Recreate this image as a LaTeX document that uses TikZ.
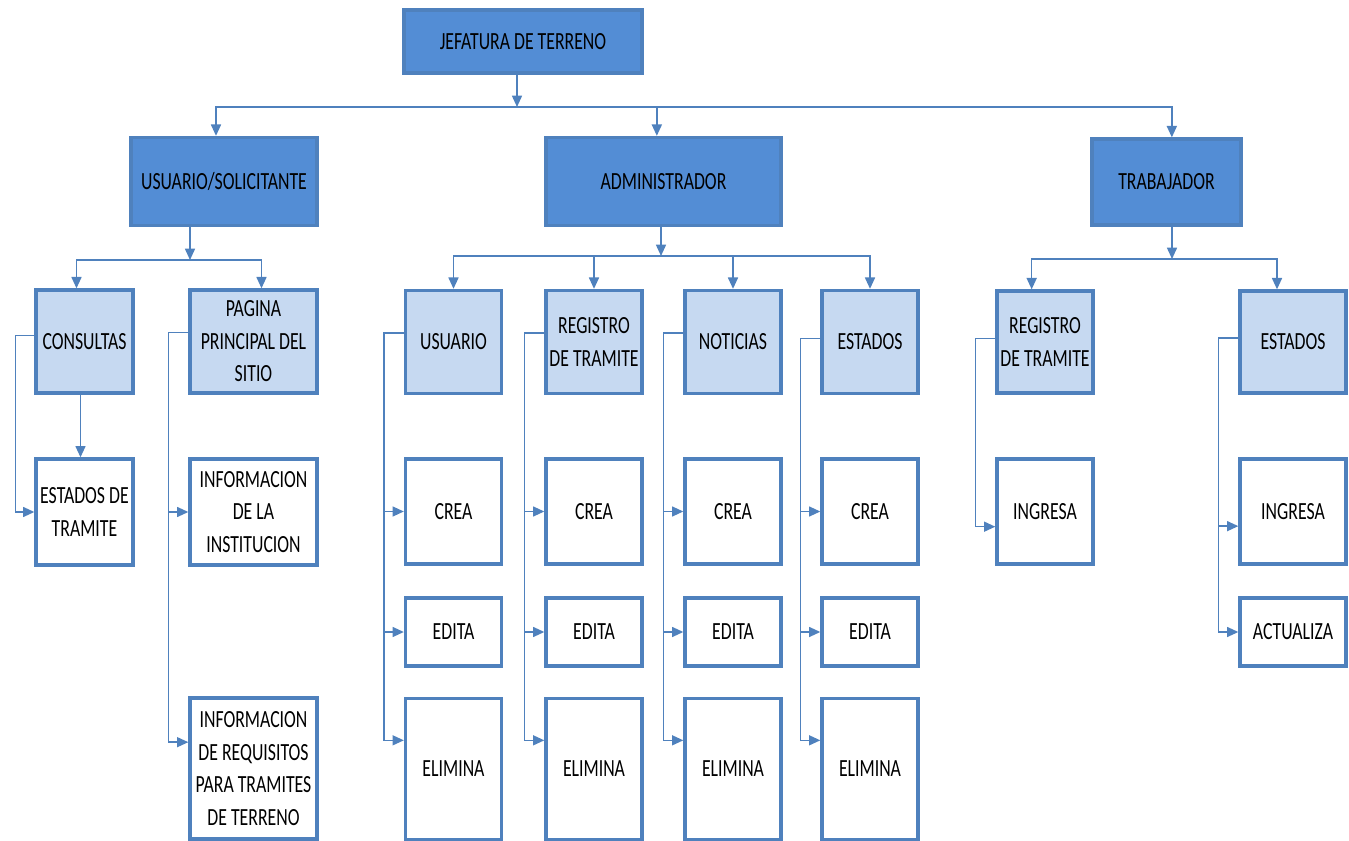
\documentclass[tikz,border=0pt]{standalone}
\usepackage{fontspec}
\setmainfont{Carlito}[FakeStretch=0.72]
\usetikzlibrary{arrows.meta}
\definecolor{bordeazul}{RGB}{79,129,189}
\definecolor{azulfuerte}{RGB}{83,141,213}
\definecolor{azulclaro}{RGB}{198,217,241}
\tikzset{every picture/.style={line width=0.75pt}}
\tikzset{
  caja/.style={draw=bordeazul, line width=2.5pt, inner sep=0pt, align=center, font=\fontsize{18.5}{24.4}\selectfont},
  oscura/.style={caja, fill=azulfuerte},
  clara/.style={caja, fill=azulclaro},
  blanca/.style={caja, fill=white},
  sz/.style 2 args={minimum width=#1*0.75pt, minimum height=#2*0.75pt},
  con/.style={draw=bordeazul, line width=1.2pt, -{Triangle[length=8.5pt,width=7.5pt]}},
}
\begin{document}
\begin{tikzpicture}[x=0.75pt,y=0.75pt,yscale=-1,xscale=1]
\useasboundingbox (0,0) rectangle (1349,841);

%Nivel superior
\node[oscura, sz={238}{63}] (jef) at (523,41.5) {JEFATURA DE TERRENO};
\node[oscura, sz={186}{88}] (usr) at (224,181.5) {USUARIO/SOLICITANTE};
\node[oscura, sz={235}{88}] (adm) at (663.5,181.5) {ADMINISTRADOR};
\node[oscura, sz={149}{86}] (trab) at (1166.5,182) {TRABAJADOR};

\coordinate (t1) at (517,107);
\draw[con] (jef.south -| t1) -- (t1);
\draw[con] (t1) -| ([xshift=-6pt]usr.north);
\draw[con] (t1) -| ([xshift=-5pt]adm.north);
\draw[con] (t1) -| ([xshift=4pt]trab.north);

%Usuario/solicitante
\node[clara, sz={97}{103}] (cons) at (84.5,341.5) {CONSULTAS};
\node[clara, sz={127}{103}] (pag) at (253.5,341.5) {PAGINA\\PRINCIPAL DEL\\SITIO};
\node[blanca, sz={97}{106}] (estr) at (84.5,512) {ESTADOS DE\\TRAMITE};
\node[blanca, sz={127}{106}] (inst) at (253.5,512) {INFORMACION\\DE LA\\INSTITUCION};
\node[blanca, sz={127}{141}] (req) at (253.5,768.5) {INFORMACION\\DE REQUISITOS\\PARA TRAMITES\\DE TERRENO};

\coordinate (s1) at (190,260);
\draw[con] (usr.south -| s1) -- (s1);
\draw[con] (s1) -| ([xshift=-6pt]cons.north);
\draw[con] (s1) -| ([xshift=6pt]pag.north);
\draw[con] ([xshift=-3pt]cons.south) -- ([xshift=-3pt]estr.north);
\draw[con] (cons.173) -- ++(-19,0) |- (estr.west);
\draw[con] (pag.172) -- ++(-20,0) |- (inst.west);
\draw[con] (pag.172) -- ++(-20,0) |- (req.158);

%Administrador
\coordinate (s2) at (661,256);
\draw[con] (adm.south -| s2) -- (s2);
\foreach \n/\x/\t/\a in {usu/453.5/USUARIO/170, reg/594/{REGISTRO\\DE TRAMITE}/170, not/733/NOTICIAS/170, est/870/ESTADOS/176}{
  \node[clara, sz={96}{103}] (\n) at (\x,342) {\t};
  \node[blanca, sz={96}{105}] (\n-crea) at (\x,511.5) {CREA};
  \node[blanca, sz={96}{68}] (\n-edita) at (\x,632) {EDITA};
  \node[blanca, sz={96}{141}] (\n-elim) at (\x,769) {ELIMINA};
  \draw[con] (s2) -| (\n);
  \draw[con] (\n.\a) -- ++(-20,0) |- (\n-crea.west);
  \draw[con] (\n.\a) -- ++(-20,0) |- (\n-edita.west);
  \draw[con] (\n.\a) -- ++(-20,0) |- (\n-elim.150);
}

%Trabajador
\node[clara, sz={96}{102}] (reg2) at (1045,342) {REGISTRO\\DE TRAMITE};
\node[clara, sz={106}{102}] (est2) at (1293,342) {ESTADOS};
\node[blanca, sz={96}{105}] (ing1) at (1045,511.5) {INGRESA};
\node[blanca, sz={106}{105}] (ing2) at (1293,511.5) {INGRESA};
\node[blanca, sz={106}{68}] (act) at (1293,632) {ACTUALIZA};

\coordinate (s3) at (1172,259);
\draw[con] (trab.south -| s3) -- (s3);
\draw[con] (s3) -| ([xshift=-10pt]reg2.north);
\draw[con] (s3) -| ([xshift=-12pt]est2.north);
\draw[con] (reg2.176) -- ++(-20,0) |- (ing1.197);
\draw[con] (est2.176) -- ++(-20,0) |- (ing2.195);
\draw[con] (est2.176) -- ++(-20,0) |- (act.west);

\end{tikzpicture}
\end{document}
